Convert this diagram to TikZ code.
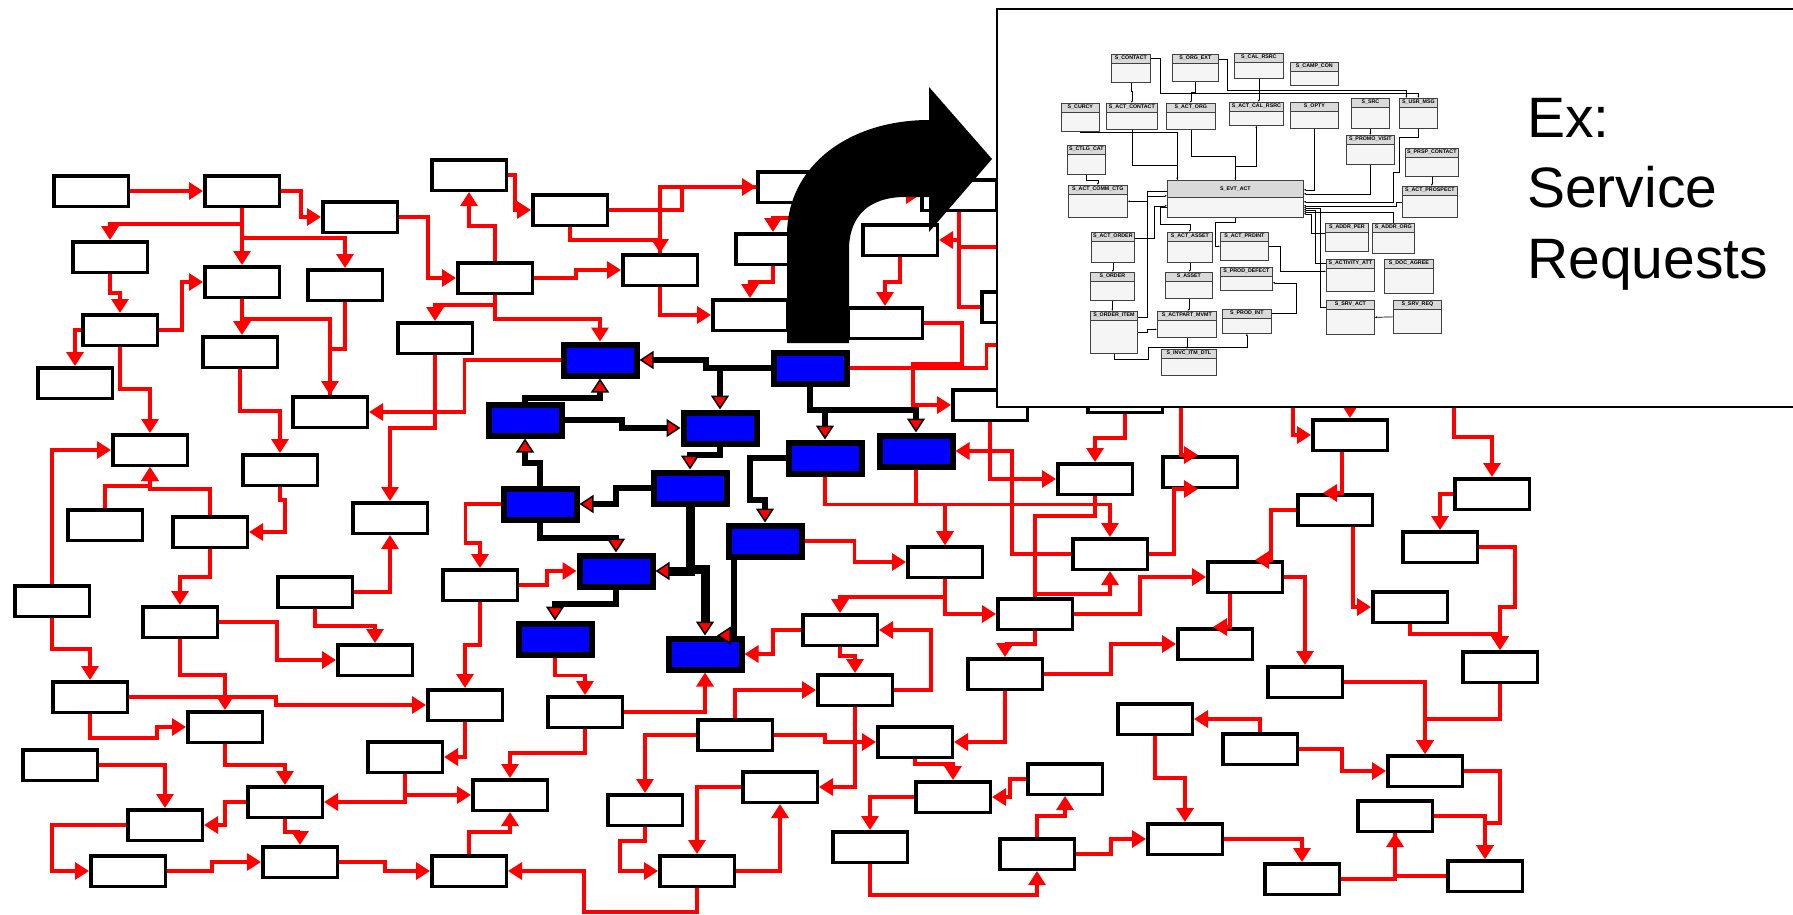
\documentclass[tikz,border=0pt]{standalone}
\usepackage{fontspec}
\setmainfont{Liberation Sans}
\usetikzlibrary{arrows.meta}

% one table of the schema: name, left, top, width, height, title
\newcommand\ertable[6]{%
  \node[ertab,minimum width=#4pt,minimum height=#5pt] (#1) at (#2,#3) {};
  \node[erlab] (#1-t) at ([yshift=-4.25pt]#1.north) {#6};
}

\begin{document}
\begin{tikzpicture}[x=1pt,y=-1pt]
\tikzset{
  tbl/.style={draw,fill=white,line width=3.5pt,minimum width=74.5pt,minimum height=30.5pt,inner sep=0pt},
  hot/.style={draw,fill=blue,line width=6pt,minimum width=73pt,minimum height=31pt,inner sep=0pt},
  link/.style={red,line width=3.2pt,-{Triangle[length=14pt,width=17pt]}},
  wire/.style={red,line width=3.2pt},
  lead/.style={line width=6pt,-{Triangle[length=14pt,width=18pt,fill=red,color=black,line width=1.5pt]}},
  ertab/.style={draw=black!75,line width=0.7pt,fill=black!4,anchor=north west,inner sep=0pt,
    path picture={\fill[black!15] (path picture bounding box.north west) rectangle ([yshift=-#1]path picture bounding box.north east);
      \draw[black!75,line width=0.5pt] ([yshift=-#1]path picture bounding box.north west) -- ([yshift=-#1]path picture bounding box.north east);}},
  ertab/.default=8.5pt,
  erlab/.style={font=\fontsize{5.3}{6}\selectfont\bfseries,inner sep=0pt},
  erln/.style={line width=0.7pt,-{Latex[length=2.2pt,width=2pt]}},
  big/.style={font=\fontsize{57}{57}\selectfont,anchor=base west,inner sep=0pt}
}
\useasboundingbox (0,0) rectangle (1793,914);

% plain tables
\path
(91,191) node[tbl] (t1) {}
(242,191) node[tbl] (t2) {}
(360,217) node[tbl] (t3) {}
(110,257) node[tbl] (t4) {}
(242,282) node[tbl] (t5) {}
(345,285) node[tbl] (t6) {}
(120,330) node[tbl] (t7) {}
(75,383) node[tbl] (t8) {}
(240,352) node[tbl] (t9) {}
(330,412) node[tbl] (t10) {}
(150,450) node[tbl] (t11) {}
(280,470) node[tbl] (t12) {}
(390,518) node[tbl] (t13) {}
(435,338) node[tbl] (t14) {}
(469,175) node[tbl] (t15) {}
(495,278) node[tbl] (t16) {}
(105,525) node[tbl] (t17) {}
(210,532) node[tbl] (t18) {}
(52,601) node[tbl] (t19) {}
(180,622) node[tbl] (t20) {}
(315,592) node[tbl] (t21) {}
(375,660) node[tbl] (t22) {}
(480,585) node[tbl] (t23) {}
(90,697) node[tbl] (t24) {}
(225,727) node[tbl] (t25) {}
(465,705) node[tbl] (t26) {}
(60,765) node[tbl] (t27) {}
(405,757) node[tbl] (t28) {}
(285,802) node[tbl] (t29) {}
(165,825) node[tbl] (t30) {}
(128,871) node[tbl] (t31) {}
(300,862) node[tbl] (t32) {}
(469,871) node[tbl] (t33) {}
(570,210) node[tbl] (t34) {}
(660,270) node[tbl] (t35) {}
(795,187) node[tbl] (t36) {}
(773,249) node[tbl] (t37) {}
(750,315) node[tbl] (t38) {}
(900,240) node[tbl] (t39) {}
(885,323) node[tbl] (t40) {}
(990,405) node[tbl] (t41) {}
(585,712) node[tbl] (t44) {}
(510,795) node[tbl] (t46) {}
(645,810) node[tbl] (t48) {}
(697,871) node[tbl] (t49) {}
(735,735) node[tbl] (t50) {}
(780,787) node[tbl] (t51) {}
(840,630) node[tbl] (t52) {}
(855,690) node[tbl] (t53) {}
(945,562) node[tbl] (t54) {}
(915,742) node[tbl] (t55) {}
(953,797) node[tbl] (t56) {}
(870,847) node[tbl] (t57) {}
(1125,397) node[tbl] (t58) {}
(1095,479) node[tbl] (t59) {}
(1200,472) node[tbl] (t60) {}
(1350,435) node[tbl] (t61) {}
(1335,510) node[tbl] (t62) {}
(1110,554) node[tbl] (t63) {}
(1035,614) node[tbl] (t64) {}
(1245,577) node[tbl] (t65) {}
(1440,547) node[tbl] (t66) {}
(1410,607) node[tbl] (t67) {}
(1005,674) node[tbl] (t68) {}
(1215,644) node[tbl] (t69) {}
(1305,682) node[tbl] (t70) {}
(1155,719) node[tbl] (t71) {}
(1260,749) node[tbl] (t72) {}
(1425,771) node[tbl] (t73) {}
(1065,779) node[tbl] (t75) {}
(1395,816) node[tbl] (t76) {}
(1037,854) node[tbl] (t77) {}
(1185,839) node[tbl] (t78) {}
(1302,879) node[tbl] (t79) {}
(1492,494) node[tbl] (t80) {}
(1500,667) node[tbl] (t82) {}
(1485,876) node[tbl] (t85) {}
(1019,307) node[tbl] (t86) {}
(959,195) node[tbl] (t87) {}
;

% tables touched by the request
\path
(600,360) node[hot] (h1) {}
(810,368) node[hot] (h2) {}
(525,420) node[hot] (h3) {}
(720,428) node[hot] (h4) {}
(825,458) node[hot] (h5) {}
(916,451) node[hot] (h6) {}
(690,488) node[hot] (h7) {}
(540,504) node[hot] (h8) {}
(765,541) node[hot] (h9) {}
(616,571) node[hot] (h10) {}
(555,639) node[hot] (h11) {}
(705,654) node[hot] (h12) {}
;

\coordinate (u1) at (1181,400);
\coordinate (u2) at (1350,400);
\coordinate (u3) at (1293,400);
\coordinate (u4) at (1454,400);
\coordinate (u5) at (1000,247);
\coordinate (u6) at (1000,345);

% foreign keys
\draw[link] (t1.east) -- (t2.west);
\draw[link] (t2.east) -- ++(20,0) |- (t3.west);
\draw[link] (t2.south) -- ++(0,16) -| (t4.north);
\draw[link] (t2.south) -- (t5.north);
\draw[link] (t2.south) -- ++(0,30) -| (t6.north);
\draw[link] (t3.east) -- ++(29,0) |- (t16.west);
\draw[link] (t4.south) -- ++(0,19) -| (t7.north);
\draw[link] (t7.east) -- ++(23,0) |- (t5.west);
\draw[link] (t7.west) -| (t8.north);
\draw[link] (t7.south) -- ++(0,42) -| (t11.north);
\draw[link] (t5.south) -- (t5.south |- t9.north);
\draw[link] (t5.south) -- ++(0,20) -| (t10.north);
\draw[wire] (t6.south) -- ++(0,47) -| (t10.north);
\draw[link] (t9.south) -- ++(0,42) -| (t12.north);
\draw[link] (h1.west) -- ++(-96,0) |- (t10.east);
\draw[link] (t14.south) -- ++(0,73) -| (t13.north);
\draw[link] (t16.south) -- ++(0,10) -| (t14.north);
\draw[link] (t16.south) -- ++(0,24) -| (h1.north);
\draw[link] (t16.north) -- ++(0,-35) -| (t15.south);
\draw[link] (t15.east) -- ++(7,0) |- (t34.west);
\draw[link] (t34.east) -- ++(73,0) |- (t36.west);
\draw[wire] (t35.north) |- (t36.west);
\draw[link] (t34.south) -- ++(0,13) -| (t35.north);
\draw[link] (t16.east) -- ++(42,0) |- (t35.west);
\draw[link] (t35.south) |- (t38.west);
\draw[link] (t36.south) -- ++(0,14) -| (t37.north);
\draw[link] (t37.south) -- ++(0,16) -| (t38.north);
\draw[link] (t36.east) -- ++(70,0) |- (t87.west);
\draw[link] (t87.south) |- (t39.east);
\draw[wire] (t87.south) |- (t86.west);
\draw[wire] (t87.south) |- (u5);
\draw[link] (t39.south) -- ++(0,25) -| (t40.north);
\draw[link] (t40.east) -- ++(38,0) -- ++(0,41) -- ++(-49,0) |- (t41.west);
\draw[wire] (h2.east) -- ++(137,0) |- (u6);
\draw[link] (t41.south) |- (t59.west);
\draw[link] (t63.west) -- ++(-59,0) |- (h6.east);
\draw[link] (h5.south) -- ++(0,28) -| (t54.north);
\draw[link] (h6.south) -- ++(0,35) -| (t54.north);
\draw[link] (h5.south) -- ++(0,28) -| (t63.north);
\draw[link] (h9.east) -- ++(50,0) |- (t54.west);
\draw[link] (t58.south) -- ++(0,24) -| (t59.north);
\draw[link] (u1) |- ([xshift=-2pt]t60.north);
\draw[link] (t63.east) -- ++(25,0) |- ([xshift=-2pt]t60.south);
\draw[wire] (t59.south) -- ++(0,20) -| (t64.north);
\draw[link] (t64.north) -- ++(0,-3) -| (t63.south);
\draw[link] (t54.south) |- (t64.west);
\draw[link] (t54.south) -- ++(0,18) -| (t52.north);
\draw[link] (t64.east) -- ++(66,0) |- (t65.west);
\draw[link] (t64.south) -- ++(0,13) -| (t68.north);
\draw[link] (t68.east) -- ++(67,0) |- (t69.west);
\draw[link] (t68.south) |- (t55.east);
\draw[link] ([xshift=-15pt]t65.south) |- ([xshift=-2pt]t69.north);
\draw[link] (t65.east) -| (t70.north);
\draw[link] (t62.west) -- ++(-25,0) |- ([xshift=10pt]t65.north);
\draw[link] ([xshift=-8pt]t61.south) |- ([xshift=-12pt]t62.north);
\draw[link] (u2) -- (u2 |- t61.north);
\draw[link] (u3) |- (t61.west);
\draw[link] ([xshift=18pt]t62.south) |- (t67.west);
\draw[link] (u4) -- ++(0,37) -| (t80.north);
\draw[link] (t80.west) -| (t66.north);
\draw[link] (t66.east) -- ++(36,0) -- ++(0,60) -| (t82.north);
\draw[link] (t67.south) -- ++(0,10) -| (t82.north);
\draw[link] (t82.south) -- ++(0,35) -| (t73.north);
\draw[link] (t70.east) -| (t73.north);
\draw[link] (t72.east) -- ++(43,0) |- (t73.west);
\draw[link] (t72.north) |- (t71.east);
\draw[link] (t71.south) -- ++(0,42) -| (t78.north);
\draw[link] (t73.east) -- ++(36,0) -- ++(0,52) -| (t85.north);
\draw[link] (t76.east) -| (t85.north);
\draw[link] (t79.east) -| (t76.south);
\draw[wire] (t85.west) -| (t76.south);
\draw[link] (t78.east) -| (t79.north);
\draw[link] (t77.east) -- ++(35,0) |- (t78.west);
\draw[link] (t77.north) -- ++(0,-21) -| (t75.south);
\draw[link] (t75.west) -- ++(-16,0) |- (t56.east);
\draw[link] (t57.south) -- ++(0,31) -| (t77.south);
\draw[link] (t56.west) -| (t57.north);
\draw[link] (t55.south) -- ++(0,5) -| (t56.north);
\draw[link] (t50.east) -- ++(51,0) |- (t55.west);
\draw[link] (t50.north) |- (t53.west);
\draw[link] (t50.west) -| (t48.north);
\draw[link] (t53.east) -- ++(37,0) |- (t52.east);
\draw[link] (t52.south) -- ++(0,9) -| (t53.north);
\draw[link] (t53.south) |- (t51.east);
\draw[link] (t51.west) -| (t49.north);
\draw[link] (t49.east) -| (t51.south);
\draw[link] (t48.south) -- ++(0,14) -- ++(-25,0) |- (t49.west);
\draw[link] (t49.south) -- ++(0,24) -- ++(-113,0) |- (t33.east);
\draw[link] (t52.west) -- ++(-28,0) |- (h12.east);
\draw[link] (t44.east) -| (h12.south);
\draw[link] (h11.south) -- ++(0,18) -| (t44.north);
\draw[link] (t23.east) -- ++(28,0) |- (h10.west);
\draw[link] (h8.west) -- ++(-35,0) -- ++(0,39) -| (t23.north);
\draw[link] (t23.south) -- ++(0,43) -| (t26.north);
\draw[link] (t26.south) |- (t28.east);
\draw[link] (t44.south) -- ++(0,24) -| (t46.north);
\draw[link] (t28.south) |- (t29.east);
\draw[link] (t28.south) |- (t46.west);
\draw[link] (t33.north) -- ++(0,-22) -| (t46.south);
\draw[link] (t32.east) -- ++(46,0) |- (t33.west);
\draw[link] (t31.east) -- ++(45,0) |- (t32.west);
\draw[link] (t30.west) -- ++(-74,0) |- (t31.west);
\draw[link] (t29.west) -- ++(-21,0) |- (t30.east);
\draw[link] (t29.south) -- ++(0,13) -| (t32.north);
\draw[link] (t27.east) -| (t30.north);
\draw[link] (t25.south) -- ++(0,21) -| (t29.north);
\draw[link] (t24.south) -- ++(0,24) -- ++(67,0) |- (t25.west);
\draw[link] (t24.east) -- ++(147,0) |- (t26.west);
\draw[link] (t19.south) -- ++(0,31) -| (t24.north);
\draw[link] (t19.north) |- (t11.west);
\draw[link] (t20.south) -- ++(0,36) -| (t25.north);
\draw[link] (t20.east) -- ++(58,0) |- (t22.west);
\draw[link] (t18.south) -- ++(0,28) -| (t20.north);
\draw[link] (t17.north) -- ++(0,-22) -| (t11.south);
\draw[link] (t18.north) -- ++(0,-26) -| (t11.south);
\draw[link] (t12.south) -- ++(0,13) -- ++(5,0) |- (t18.east);
\draw[link] (t21.east) -| (t13.south);
\draw[link] (t21.south) -- ++(0,17) -| (t22.north);

% keys followed by the request
\draw[lead] (h2.west) -- ++(-65,0) |- (h1.east);
\draw[lead] (h2.west) -| (h4.north);
\draw[lead] (h2.south) -- ++(0,23) -| (h5.north);
\draw[lead] (h2.south) -- ++(0,23) -| (h6.north);
\draw[lead] (h3.east) -- ++(57,0) |- (h4.west);
\draw[lead] (h3.north) -- ++(0,-4) -| (h1.south);
\draw[lead] (h4.south) -- ++(0,8) -| (h7.north);
\draw[lead] (h7.west) -- ++(-35,0) |- (h8.east);
\draw[lead] (h8.north) -- ++(0,-23) -| (h3.south);
\draw[lead] (h8.south) -- ++(0,15) -| (h10.north);
\draw[lead,line width=9pt] (h7.south) |- (h10.east);
\draw[lead,line width=9pt] (h7.south) -- ++(0,63) -| (h12.north);
\draw[lead] (h5.west) -- ++(-36,0) -- ++(0,42) -| (h9.north);
\draw[lead] ([xshift=-31pt]h9.south) |- ([xshift=12pt]h12.north);
\draw[lead] (h10.south) -- ++(0,14) -| (h11.north);

% the bent arrow
\fill (787,343) -- (787,235) .. controls (787,165) and (850,120) .. (929,120)
  -- (929,87) -- (992,159) -- (929,232) -- (929,197) -- (905,197)
  .. controls (870,197) and (849,215) .. (849,250) -- (849,343) -- cycle;

% close-up of one subject area
\node[draw,fill=white,line width=1.6pt,anchor=north west,minimum width=820pt,minimum height=398pt,inner sep=0pt] (inset) at (996,8) {};

\ertable{sContact}{1111}{54}{39}{28}{S\_CONTACT}
\ertable{sOrgExt}{1172}{54}{46}{27}{S\_ORG\_EXT}
\ertable{sCalRsrc}{1234}{53}{49}{25}{S\_CAL\_RSRC}
\ertable{sCampCon}{1290}{62}{48}{23}{S\_CAMP\_CON}
\ertable{sCurcy}{1061}{103}{38}{28}{S\_CURCY}
\ertable{sActContact}{1106}{103}{51}{26}{S\_ACT\_CONTACT}
\ertable{sActOrg}{1166}{103}{49}{26}{S\_ACT\_ORG}
\ertable{sActCalRsrc}{1229}{102}{54}{23}{S\_ACT\_CAL\_RSRC}
\ertable{sOpty}{1290}{102}{48}{26}{S\_OPTY}
\ertable{sSrc}{1351}{98}{38}{30}{S\_SRC}
\ertable{sUsrMsg}{1399}{98}{38}{30}{S\_USR\_MSG}
\ertable{sPromoVisit}{1346}{135}{48}{29}{S\_PROMO\_VISIT}
\ertable{sCtlgCat}{1067}{145}{38}{29}{S\_CTLG\_CAT}
\ertable{sPrspContact}{1405}{148}{53}{28}{S\_PRSP\_CONTACT}
\ertable{sActCommCtg}{1068}{185}{59}{32}{S\_ACT\_COMM\_CTG}
\node[ertab=17pt,minimum width=136pt,minimum height=37pt] (sEvtAct) at (1167,180) {};
\node[erlab] (sEvtAct-t) at ([yshift=-8.5pt]sEvtAct.north) {S\_EVT\_ACT};
\ertable{sActProspect}{1402}{186}{55}{31}{S\_ACT\_PROSPECT}
\ertable{sActOrder}{1091}{232}{43}{30}{S\_ACT\_ORDER}
\ertable{sActAsset}{1167}{232}{45}{30}{S\_ACT\_ASSET}
\ertable{sActPrdint}{1220}{232}{48}{28}{S\_ACT\_PRDINT}
\ertable{sAddrPer}{1325}{223}{43}{28}{S\_ADDR\_PER}
\ertable{sAddrOrg}{1372}{223}{42}{30}{S\_ADDR\_ORG}
\ertable{sOrder}{1090}{272}{44}{28}{S\_ORDER}
\ertable{sAsset}{1165}{272}{47}{26}{S\_ASSET}
\ertable{sProdDefect}{1220}{267}{52}{23}{S\_PROD\_DEFECT}
\ertable{sActivityAtt}{1326}{259}{48}{32}{S\_ACTIVITY\_ATT}
\ertable{sDocAgree}{1384}{259}{49}{34}{S\_DOC\_AGREE}
\ertable{sOrderItem}{1090}{311}{47}{42}{S\_ORDER\_ITEM}
\ertable{sActpartMvmt}{1157}{311}{59}{26}{S\_ACTPART\_MVMT}
\ertable{sProdInt}{1222}{309}{49}{24}{S\_PROD\_INT}
\ertable{sSrvAct}{1326}{300}{48}{34}{S\_SRV\_ACT}
\ertable{sSrvReq}{1393}{300}{48}{33}{S\_SRV\_REQ}
\ertable{sInvcItmDtl}{1161}{349}{55}{26}{S\_INVC\_ITM\_DTL}

\draw[erln] (sContact.south) -- ++(0,9) -| (sActContact.north);
\draw[erln] (sOrgExt.south) -- ++(0,11) -| (sActOrg.north);
\draw[erln] ([yshift=10pt]sContact.east) -- ++(10,0) -- ++(0,35) -| (sUsrMsg.north);
\draw[erln] ([yshift=9pt]sOrgExt.east) -- ++(9,0) -- ++(0,31) -| ([xshift=-12pt]sUsrMsg.north);
\draw[erln] (sCalRsrc.south) -- (sCalRsrc.south |- sActCalRsrc.north);
\draw[erln] (sActContact.south) -- ++(0,36) -| ([xshift=-58pt]sEvtAct.north);
\draw[erln] (sCurcy.south) -- ++(0,1) -| ([xshift=-58pt]sEvtAct.north);
\draw[erln] (sActOrg.south) -- ++(0,27) -| (sEvtAct.north);
\draw[erln] (sEvtAct.north) -- ++(0,-14) -| (sActCalRsrc.south);
\draw[erln] (sOpty.south) |- ([yshift=9pt]sEvtAct.east);
\draw[erln] (sSrc.south) -- (sSrc.south |- sPromoVisit.north);
\draw[erln] (sPromoVisit.south) |- ([yshift=5pt]sEvtAct.east);
\draw[erln] (sUsrMsg.south) -- ++(0,9) -- ++(-19,0) -- ++(0,35) -- ++(-6,0) |- ([yshift=-3pt]sEvtAct.east);
\draw[erln] (sPrspContact.south) -- (sPrspContact.south |- sActProspect.north);
\draw[erln] (sActProspect.west) -- ++(-6,0) |- ([yshift=-7pt]sEvtAct.east);
\draw[erln] (sCtlgCat.south) -- ++(0,6) -| (sActCommCtg.north);
\draw[erln] ([yshift=8pt]sEvtAct.west) -- ++(-20,0) |- (sActCommCtg.east);
\draw[erln] (sActOrder.south) -- (sActOrder.south |- sOrder.north);
\draw[erln] (sOrder.south) -- (sOrder.south |- sOrderItem.north);
\draw[erln] (sActAsset.south) -- (sActAsset.south |- sAsset.north);
\draw[erln] (sAsset.south) -- (sAsset.south |- sActpartMvmt.north);
\draw[erln] (sActpartMvmt.south) -- (sActpartMvmt.south |- sInvcItmDtl.north);
\draw[erln] ([yshift=15pt]sOrderItem.east) -- ++(10,0) |- ([yshift=3pt]sEvtAct.west);
\draw[erln] ([yshift=9pt]sActOrder.east) -- ++(20,0) |- ([yshift=-7pt]sEvtAct.west);
\draw[erln] ([yshift=-8pt]sEvtAct.west) -- ++(-7,0) |- ([yshift=8pt]sActAsset.north) -- (sActAsset.north);
\draw[erln] (sEvtAct.south) -- ++(0,5) -- ++(-20,0) |- (sActPrdint.west);
\draw[erln] ([yshift=8pt]sProdInt.east) -- ++(25,0) |- ([yshift=-4pt]sProdDefect.east);
\draw[erln] (sOrderItem.south) -- ++(0,6) -- ++(34,0) -- ++(0,-12) -| (sProdInt.south);
\draw[erln] (sOrderItem.east) -- ++(10,0) |- ([yshift=-5pt]sActpartMvmt.west);
\draw[erln] (sSrvReq.west) -- (sSrvAct.east);
\draw[erln] ([yshift=10pt]sSrvAct.west) -- ++(-6,0) |- ([yshift=-9pt]sEvtAct.east);
\draw[erln] ([yshift=12pt]sActivityAtt.west) -- ++(-11,0) |- ([yshift=-11pt]sEvtAct.east);
\draw[erln] (sAddrOrg.north) |- ([yshift=-13pt]sEvtAct.east);
\draw[erln] ([yshift=4pt]sAddrPer.west) -- ++(-14,0) |- ([yshift=-15pt]sEvtAct.east);
\draw[erln] (sActPrdint.east) -- ++(12,0) |- ([yshift=4pt]sActivityAtt.west);

\node[big] (ex1) at (1527,137) {Ex:};
\node[big] (ex2) at (1527,207) {Service};
\node[big] (ex3) at (1527,278) {Requests};
\end{tikzpicture}
\end{document}
